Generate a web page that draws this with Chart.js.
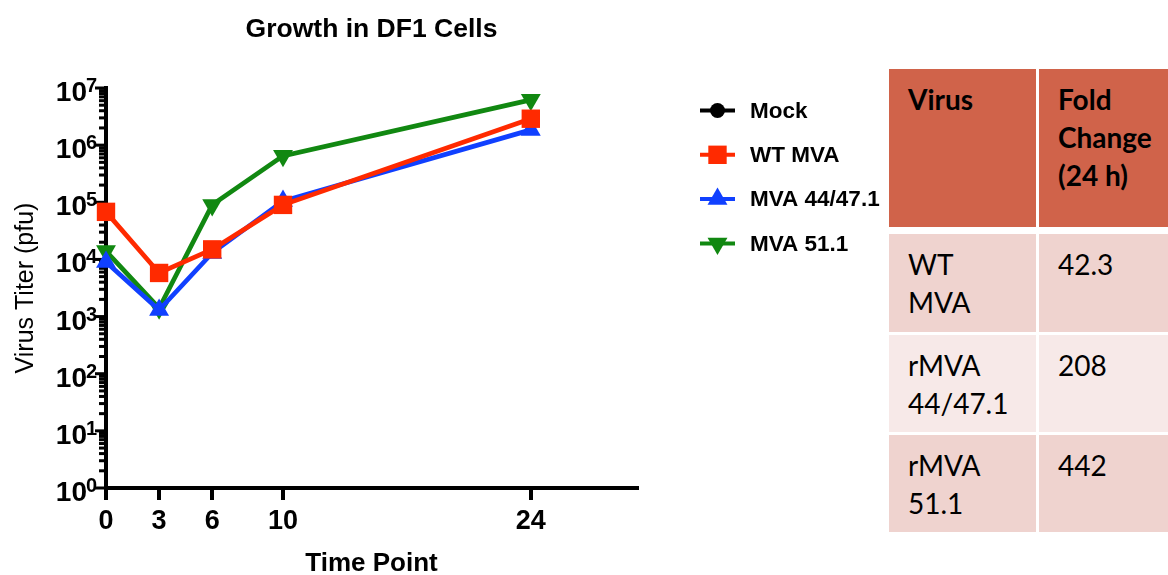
<!DOCTYPE html>
<html><head><meta charset="utf-8">
<script src="https://cdn.jsdelivr.net/npm/chart.js@4"></script>
<style>
html,body{margin:0;padding:0;background:#fff;overflow:hidden;}
#wrap{position:relative;width:1168px;height:575px;overflow:hidden;}
#c{position:absolute;left:0;top:0;}
.cell{position:absolute;box-sizing:border-box;padding:11px 0 0 19px;font-family:Lato,"Open Sans",sans-serif;font-size:28px;line-height:38px;color:#000;white-space:pre-line;}
.hd{background:#D0634A;font-weight:bold;}
.r1{background:#EFD3CF;}
.r2{background:#F7E9E8;}
</style></head>
<body>
<div id="wrap">
<canvas id="c" width="1168" height="575"></canvas>
<div id="tbl"></div>
</div>
<script>
// ---- data ----
const chartTitle = 'Growth in DF1 Cells';
const timePoints = [0, 3, 6, 10, 24];
const xTickLabels = ['0', '3', '6', '10', '24'];
const seriesNames = ['Mock', 'WT MVA', 'MVA 44/47.1', 'MVA 51.1'];
const mockTiter = [null, null, null, null, null];
const wtMvaTiter = [68000, 5800, 15000, 90000, 2900000];
const mva4447Titer = [9000, 1300, 13000, 105000, 1850000];
const mva511Titer = [14000, 1400, 90000, 650000, 6200000];
const yTickExponents = [0, 1, 2, 3, 4, 5, 6, 7];
const tableHeader = ['Virus', 'Fold\nChange\n(24 h)'];
const tableVirus = ['WT\nMVA', 'rMVA\n44/47.1', 'rMVA\n51.1'];
const tableFold = ['42.3', '208', '442'];

// ---- table (HTML) ----
(function(){
  const tbl = document.getElementById('tbl');
  const colX = [889, 1039];
  const colW = [147, 140];
  const rowY = [69, 234, 335, 435];
  const rowH = [158, 98, 97, 97];
  const rowCls = ['hd', 'r1', 'r2', 'r1'];
  const rows = [tableHeader].concat(tableVirus.map((v, i) => [v, tableFold[i]]));
  rows.forEach((r, ri) => {
    r.forEach((txt, ci) => {
      const d = document.createElement('div');
      d.className = 'cell ' + rowCls[ri];
      d.style.left = colX[ci] + 'px';
      d.style.top = rowY[ri] + 'px';
      d.style.width = colW[ci] + 'px';
      d.style.height = rowH[ri] + 'px';
      d.textContent = txt;
      tbl.appendChild(d);
    });
  });
})();

const FONT = '"Liberation Sans", Arial, Helvetica, sans-serif';
const pts = arr => timePoints.map((t, i) => ({x: t, y: arr[i]}));

const axisDecor = {
  id: 'axisDecor',
  beforeDatasetsDraw(chart) {
    const {ctx, chartArea} = chart;
    const y = chart.scales.y;
    ctx.save();
    ctx.fillStyle = '#000';
    y.ticks.forEach(t => {
      const p = y.getPixelForValue(t.value);
      const e = Math.log10(t.value);
      const major = Math.abs(e - Math.round(e)) < 1e-9;
      const len = major ? 11 : 7;
      ctx.fillRect(chartArea.left - len, p - 1.5, len, 3);
    });
    yTickExponents.forEach(ex => {
      const p = y.getPixelForValue(Math.pow(10, ex));
      ctx.font = 'bold 28px ' + FONT;
      ctx.textAlign = 'right';
      ctx.textBaseline = 'alphabetic';
      ctx.fillText('10', chartArea.left - 19, p + 13);
      ctx.font = 'bold 20px ' + FONT;
      ctx.textAlign = 'left';
      ctx.fillText(String(ex), chartArea.left - 20, p + 4);
    });
    ctx.restore();
  },
  afterDraw(chart) {
    const {ctx, chartArea} = chart;
    ctx.save();
    // title
    ctx.fillStyle = '#000';
    ctx.font = 'bold 26.5px ' + FONT;
    ctx.textAlign = 'center';
    ctx.textBaseline = 'alphabetic';
    ctx.fillText(chartTitle, (chartArea.left + chartArea.right) / 2, 37);
    // legend
    chart.data.datasets.forEach((ds, i) => {
      const yy = 110.5 + i * 44.3;
      ctx.strokeStyle = ds.borderColor;
      ctx.lineWidth = 4;
      ctx.beginPath();
      ctx.moveTo(700, yy);
      ctx.lineTo(735, yy);
      ctx.stroke();
      ctx.fillStyle = ds.borderColor;
      Chart.helpers.drawPoint(ctx, {pointStyle: ds.pointStyle, rotation: ds.pointRotation || 0, radius: ds.pointRadius, borderWidth: 0}, 717.5, yy);
      ctx.fillStyle = '#000';
      ctx.font = 'bold 22.5px ' + FONT;
      ctx.textAlign = 'left';
      ctx.textBaseline = 'middle';
      ctx.fillText(ds.label, 750, yy + 1);
    });
    ctx.restore();
  }
};

const mk = (label, arr, color, style, radius, rot) => ({
  label, data: pts(arr), borderColor: color, backgroundColor: color,
  pointBackgroundColor: color, pointBorderColor: color, pointBorderWidth: 0,
  pointStyle: style, pointRadius: radius, pointRotation: rot || 0,
  borderWidth: 4.7, tension: 0, clip: false, spanGaps: false
});

new Chart(document.getElementById('c'), {
  type: 'line',
  data: {
    datasets: [
      mk(seriesNames[0], mockTiter, '#000000', 'circle', 7.5),
      mk(seriesNames[1], wtMvaTiter, '#FF2A00', 'rect', 13),
      mk(seriesNames[2], mva4447Titer, '#1040FF', 'triangle', 11.5),
      mk(seriesNames[3], mva511Titer, '#118811', 'triangle', 11.5, 180)
    ]
  },
  options: {
    responsive: false,
    animation: false,
    devicePixelRatio: 1,
    layout: {padding: {left: 0, top: 88, right: 531, bottom: 0}, autoPadding: false},
    plugins: {legend: {display: false}, title: {display: false}, tooltip: {enabled: false}},
    scales: {
      x: {
        type: 'linear', min: 0, max: 30,
        afterBuildTicks: s => { s.ticks = timePoints.map(v => ({value: v})); },
        afterFit: s => { s.height = 87; },
        ticks: {callback: (v, i) => xTickLabels[i], font: {family: FONT, size: 27, weight: 'bold'}, color: '#000', padding: 5, maxRotation: 0, autoSkip: false},
        grid: {display: true, drawOnChartArea: false, drawTicks: true, tickLength: 12, tickWidth: 4, tickColor: '#000', color: '#000', lineWidth: 4},
        border: {display: true, width: 4, color: '#000'},
        title: {display: true, text: 'Time Point', color: '#000', font: {family: FONT, size: 26, weight: 'bold', lineHeight: 0.8}, padding: {top: 0, bottom: 1}}
      },
      y: {
        type: 'logarithmic', min: 1, max: 1e7,
        afterBuildTicks: s => {
          const t = [];
          yTickExponents.forEach(ex => {
            for (let m = 1; m <= 9; m++) {
              if (ex === yTickExponents[yTickExponents.length - 1] && m > 1) break;
              t.push({value: m * Math.pow(10, ex)});
            }
          });
          s.ticks = t;
        },
        afterFit: s => { s.width = 106; },
        ticks: {display: false},
        grid: {display: false},
        border: {display: true, width: 4, color: '#000'},
        title: {display: true, text: 'Virus Titer (pfu)', color: '#000', font: {family: FONT, size: 25, weight: 'normal'}, padding: {top: 11, bottom: 0}}
      }
    }
  },
  plugins: [axisDecor]
});
</script>
</body></html>
